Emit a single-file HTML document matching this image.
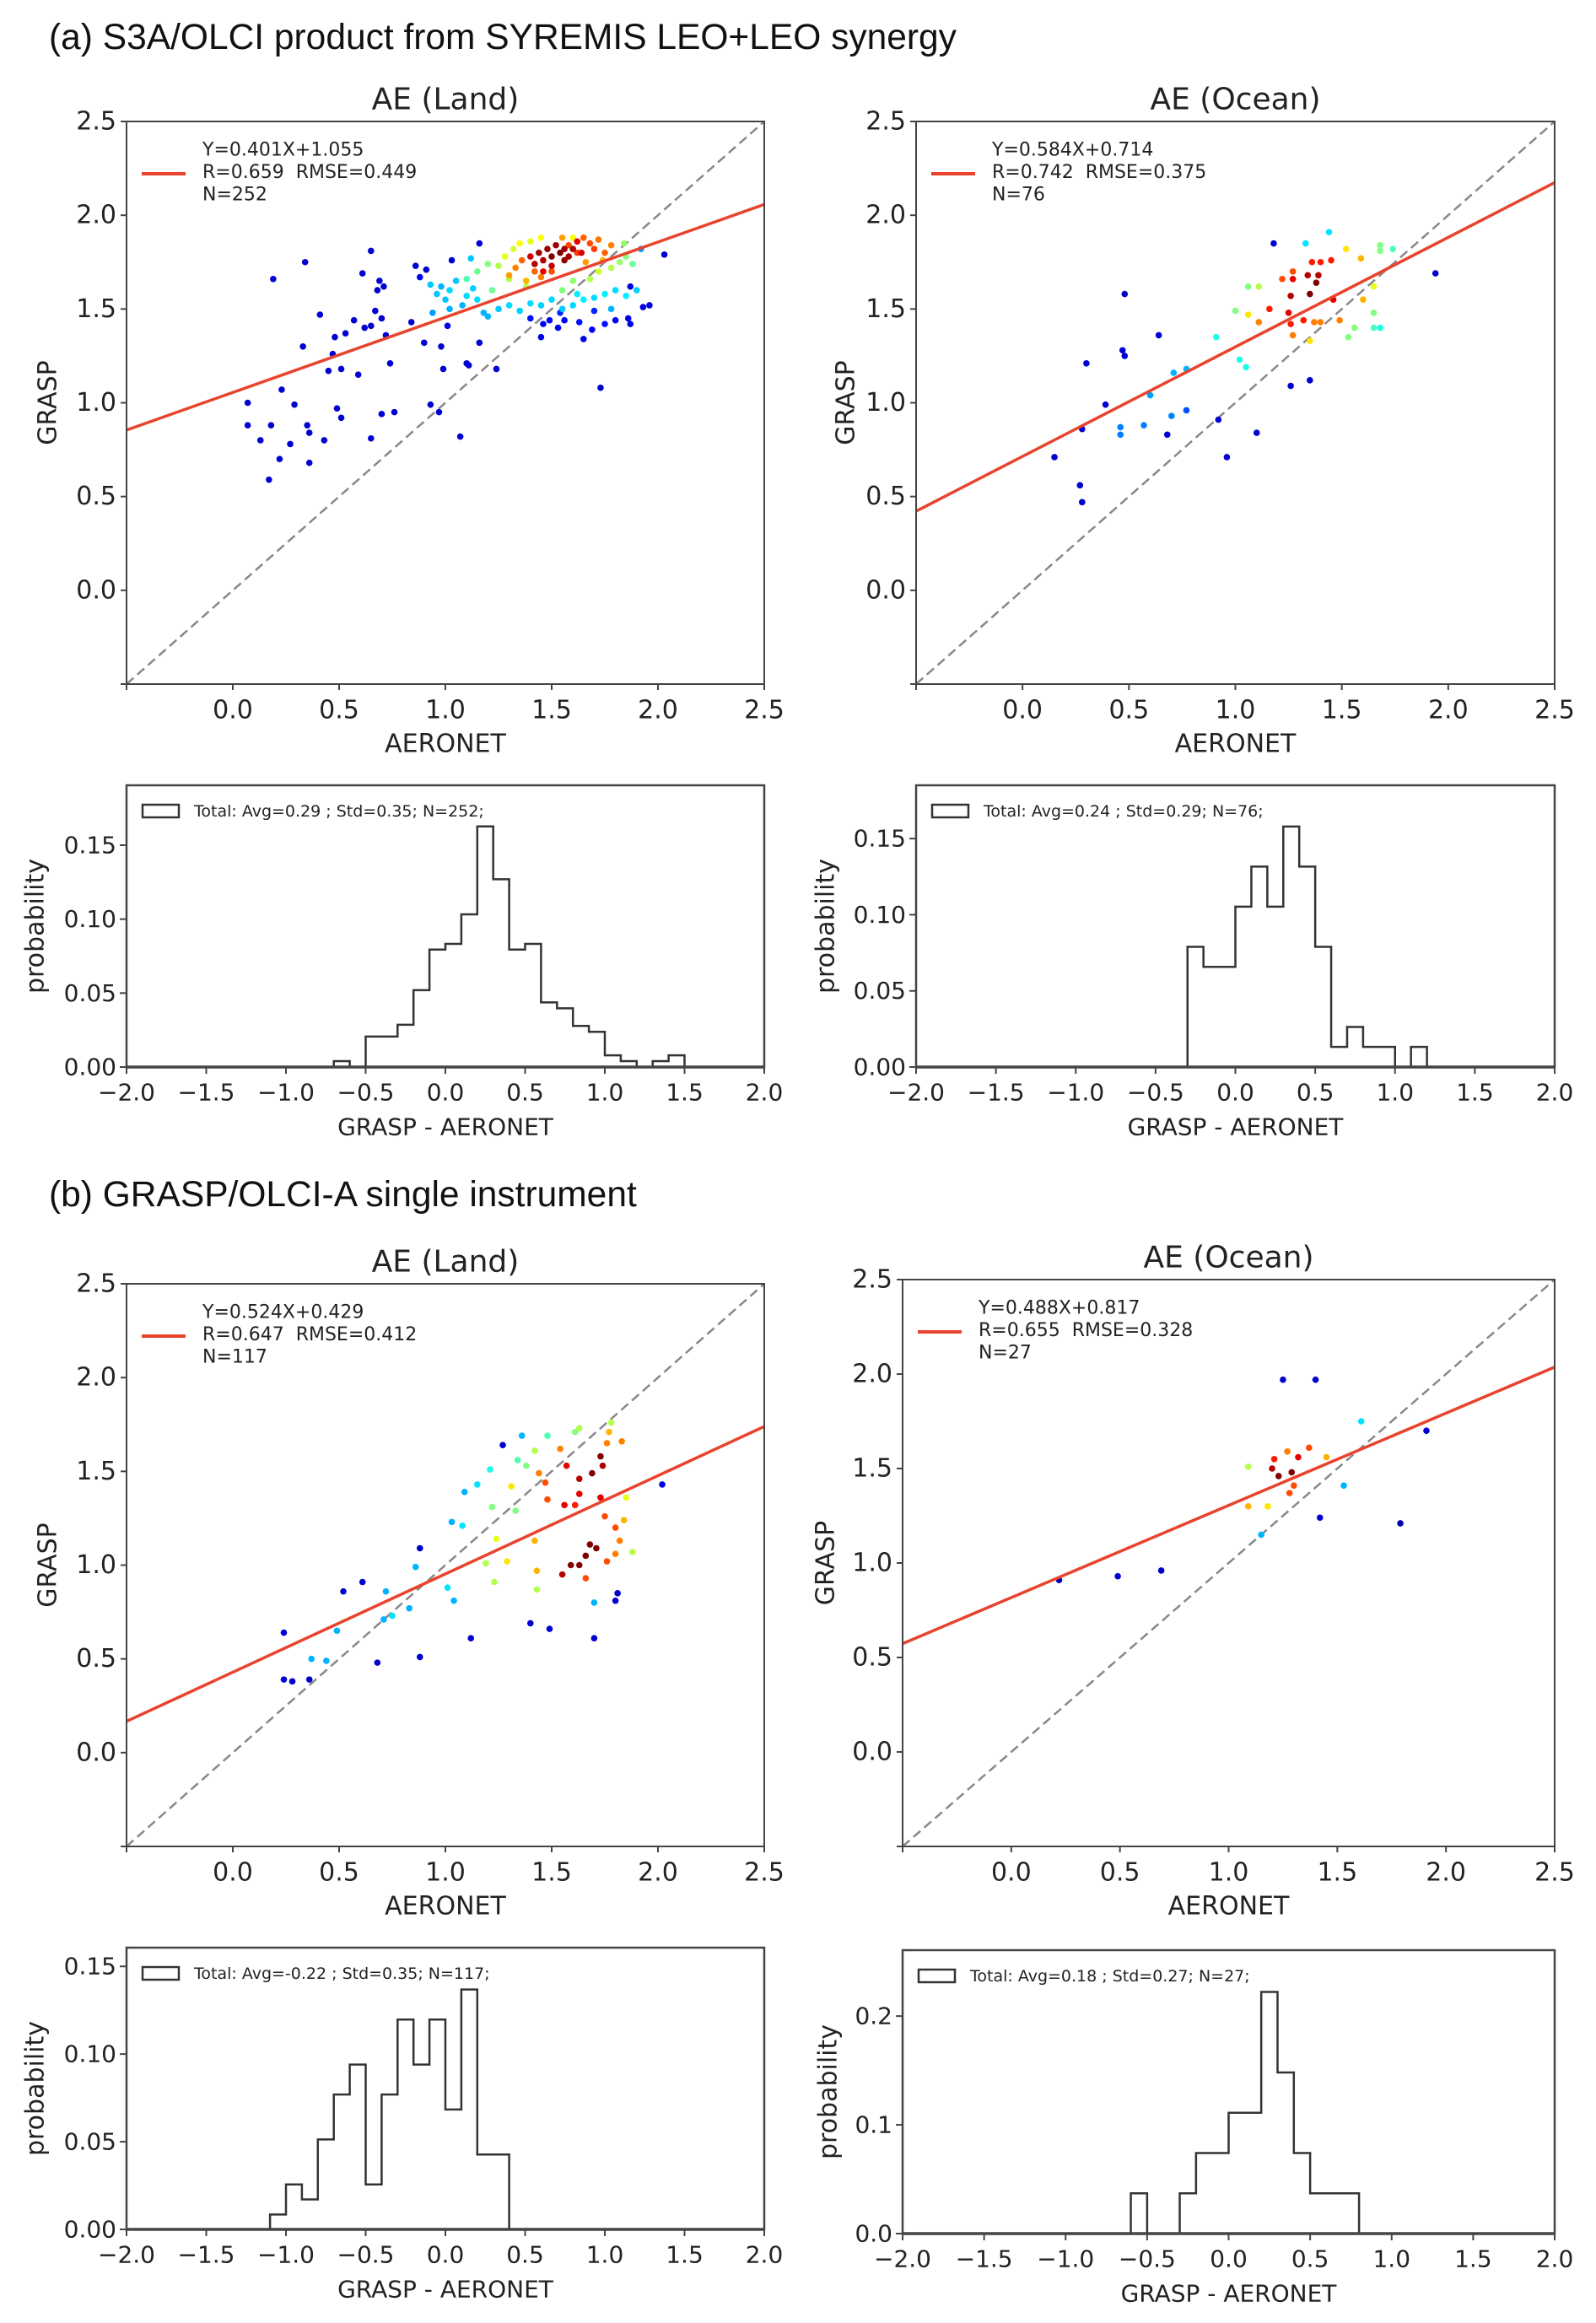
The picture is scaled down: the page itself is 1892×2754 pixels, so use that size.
<!DOCTYPE html>
<html><head><meta charset="utf-8"><style>
html,body{margin:0;padding:0;background:#fff;}
svg{display:block;font-family:"DejaVu Sans","Liberation Sans",sans-serif;}
text{white-space:pre;}
</style></head><body>
<svg id="fig" width="1892" height="2754" viewBox="0 0 1892 2754" xmlns="http://www.w3.org/2000/svg" xml:space="preserve">
<text x="58" y="58" font-family="Liberation Sans, sans-serif" font-size="42.5" fill="#111">(a) S3A/OLCI product from SYREMIS LEO+LEO synergy</text>
<text x="58" y="1430" font-family="Liberation Sans, sans-serif" font-size="42.5" fill="#111">(b) GRASP/OLCI-A single instrument</text>
</svg>
<script>
// ---------- data: scatter (a) land ----------
const landA_x=[0.07,0.07,0.13,0.18,0.17,0.19,0.22,0.23,0.27,0.29,0.33,0.34,0.35,0.36,0.36,0.41,0.43,0.45,0.47,0.48,0.49,0.51,0.51,0.53,0.57,0.59,0.61,0.62,0.65,0.65,0.65,0.67,0.68,0.69,0.70,0.71,0.70,0.72,0.74,0.76,0.84,0.86,0.88,0.90,0.91,0.93,0.97,0.98,0.99,1.01,1.03,1.07,1.10,1.11,1.16,1.16,1.24,1.46,1.45,1.49,1.53,1.56,1.63,1.65,1.69,1.73,1.75,1.80,1.86,1.87,1.87,1.93,1.96,2.03,1.70,1.40,1.54,
0.93,0.96,0.98,1.00,1.02,1.05,1.08,1.10,1.13,1.15,1.18,1.20,1.25,1.30,1.35,1.40,1.45,1.50,1.55,1.60,1.65,1.70,1.75,1.80,1.85,1.90,1.92,1.78,1.62,1.12,1.02,0.94,
1.10,1.15,1.20,1.25,1.28,1.32,1.35,1.40,1.45,1.60,1.68,1.72,1.78,1.82,1.85,1.88,1.84,1.55,1.60,1.22,1.30,1.38,
1.30,1.33,1.36,1.38,1.42,1.45,1.50,1.55,1.58,1.62,1.65,1.68,1.70,1.72,1.75,1.78,1.74,1.66,
1.40,1.42,1.44,1.46,1.48,1.50,1.52,1.54,1.56,1.58,1.60,1.62,1.50,1.46,1.56,1.64];
const landA_y=[1.00,0.88,0.80,0.88,0.59,1.66,0.70,1.07,0.78,0.99,1.30,1.75,0.88,0.84,0.68,1.47,0.80,1.17,1.26,1.35,0.97,0.92,1.18,1.37,1.44,1.15,1.69,1.40,1.81,1.41,0.81,1.49,1.60,1.65,0.94,1.62,1.45,1.36,1.21,0.95,1.43,1.73,1.67,1.32,1.71,0.99,0.95,1.30,1.18,1.41,1.76,0.82,1.21,1.20,1.85,1.32,1.18,1.42,1.35,1.44,1.40,1.44,1.43,1.34,1.39,1.08,1.42,1.44,1.45,1.62,1.42,1.51,1.52,1.79,1.49,1.45,1.48,
1.63,1.58,1.62,1.55,1.60,1.65,1.52,1.57,1.61,1.55,1.48,1.46,1.50,1.52,1.49,1.53,1.52,1.55,1.50,1.52,1.55,1.56,1.58,1.60,1.57,1.60,1.82,1.50,1.58,1.77,1.50,1.48,
1.66,1.70,1.74,1.73,1.78,1.82,1.85,1.86,1.88,1.88,1.66,1.70,1.72,1.75,1.78,1.74,1.85,1.60,1.65,1.60,1.66,1.62,
1.68,1.72,1.76,1.65,1.70,1.67,1.70,1.88,1.84,1.80,1.88,1.85,1.82,1.87,1.80,1.84,1.76,1.75,
1.78,1.74,1.80,1.76,1.82,1.78,1.84,1.80,1.82,1.78,1.82,1.86,1.73,1.70,1.76,1.80];
const landA_c=[0.08,0.08,0.08,0.08,0.08,0.08,0.08,0.08,0.08,0.08,0.08,0.08,0.08,0.08,0.08,0.08,0.08,0.08,0.08,0.08,0.08,0.08,0.08,0.08,0.08,0.08,0.08,0.08,0.08,0.08,0.08,0.08,0.08,0.08,0.08,0.08,0.08,0.08,0.08,0.08,0.08,0.08,0.12,0.08,0.08,0.08,0.08,0.08,0.08,0.10,0.08,0.08,0.08,0.08,0.08,0.08,0.08,0.12,0.10,0.12,0.12,0.12,0.14,0.10,0.12,0.08,0.14,0.12,0.10,0.10,0.10,0.10,0.10,0.08,0.16,0.14,0.16,
0.32,0.32,0.30,0.32,0.34,0.32,0.30,0.34,0.33,0.34,0.30,0.30,0.32,0.34,0.33,0.34,0.33,0.34,0.32,0.34,0.36,0.34,0.36,0.34,0.36,0.33,0.28,0.30,0.36,0.32,0.30,0.28,
0.45,0.48,0.50,0.55,0.60,0.58,0.62,0.60,0.62,0.62,0.55,0.58,0.55,0.52,0.50,0.48,0.52,0.50,0.52,0.48,0.55,0.55,
0.72,0.75,0.78,0.70,0.78,0.75,0.80,0.72,0.80,0.82,0.78,0.80,0.82,0.76,0.78,0.75,0.70,0.72,
0.92,0.95,0.97,0.95,0.98,1.00,0.97,1.00,0.98,0.96,0.95,0.90,0.93,0.90,0.98,0.92];
// ---------- scatter (a) ocean ----------
const oceanA_x=[0.15,0.27,0.28,0.28,0.30,0.39,0.48,0.47,0.48,0.46,0.46,0.57,0.60,0.64,0.68,0.70,0.71,0.77,0.77,0.92,0.96,0.91,1.02,1.05,1.00,1.06,1.06,1.11,1.10,1.18,1.33,1.44,1.26,1.35,1.16,1.11,1.22,1.26,1.27,1.27,1.25,1.26,1.27,1.32,1.35,1.34,1.36,1.38,1.39,1.40,1.37,1.40,1.45,1.46,1.49,1.35,1.52,1.59,1.60,1.53,1.56,1.65,1.65,1.68,1.65,1.68,1.68,1.74,1.94];
const oceanA_y=[0.71,0.56,0.47,0.86,1.21,0.99,1.58,1.28,1.25,0.87,0.83,0.88,1.04,1.36,0.83,0.93,1.16,1.18,0.96,0.91,0.71,1.35,1.23,1.19,1.49,1.47,1.62,1.62,0.84,1.85,1.85,1.91,1.09,1.12,1.50,1.43,1.66,1.57,1.70,1.66,1.48,1.42,1.36,1.44,1.58,1.68,1.75,1.64,1.68,1.75,1.43,1.43,1.76,1.55,1.44,1.33,1.82,1.77,1.55,1.35,1.40,1.48,1.40,1.40,1.62,1.84,1.81,1.82,1.69];
const oceanA_c=[0.08,0.08,0.08,0.08,0.08,0.08,0.06,0.08,0.08,0.25,0.25,0.25,0.28,0.08,0.08,0.25,0.30,0.30,0.20,0.08,0.08,0.40,0.40,0.40,0.50,0.65,0.50,0.55,0.08,0.08,0.35,0.35,0.08,0.08,0.85,0.75,0.80,0.95,0.80,0.90,0.90,0.85,0.75,0.85,1.00,0.95,0.85,1.00,0.95,0.85,0.75,0.75,0.85,0.90,0.75,0.65,0.65,0.70,0.70,0.50,0.50,0.50,0.45,0.40,0.60,0.50,0.50,0.45,0.08];
// ---------- scatter (b) land ----------
const landB_x=[0.24,0.24,0.28,0.36,0.37,0.44,0.49,0.52,0.61,0.68,0.72,0.71,0.75,0.83,0.86,0.88,0.88,1.01,1.04,1.03,1.08,1.09,1.15,1.12,1.21,1.22,1.23,1.24,1.19,1.27,1.31,1.29,1.33,1.34,1.36,1.38,1.42,1.40,1.42,1.43,1.43,1.44,1.47,1.48,1.48,1.49,1.54,1.55,1.56,1.57,1.59,1.61,1.61,1.63,1.63,1.63,1.63,1.66,1.66,1.68,1.69,1.70,1.71,1.70,1.73,1.73,1.74,1.76,1.75,1.76,1.77,1.78,1.80,1.80,1.81,1.80,1.82,1.83,1.84,1.85,1.88,2.02];
const landB_y=[0.64,0.39,0.38,0.39,0.50,0.49,0.65,0.86,0.91,0.48,0.86,0.71,0.73,0.77,0.99,1.09,0.51,0.88,0.81,1.23,1.21,1.39,1.43,0.61,1.51,1.31,0.91,1.14,1.01,1.64,1.42,1.02,1.29,1.56,1.69,1.53,1.61,0.69,1.13,0.97,0.87,1.49,1.44,1.69,1.35,0.66,1.62,0.95,1.32,1.53,1.00,1.71,1.32,1.73,1.46,1.00,1.38,0.93,1.05,1.11,1.49,0.61,1.09,0.80,1.58,1.36,1.53,1.65,1.26,1.02,1.71,1.76,1.06,1.20,0.85,0.81,1.13,1.66,1.24,1.36,1.07,1.43];
const landB_c=[0.08,0.08,0.08,0.08,0.30,0.30,0.30,0.08,0.08,0.08,0.30,0.30,0.35,0.30,0.30,0.08,0.08,0.35,0.30,0.30,0.35,0.30,0.35,0.08,0.40,0.50,0.55,0.60,0.55,0.08,0.65,0.65,0.50,0.45,0.30,0.50,0.55,0.08,0.70,0.70,0.55,0.75,0.80,0.45,0.80,0.08,0.75,0.95,0.90,0.90,1.00,0.50,0.85,0.55,0.95,1.00,0.90,0.80,1.00,1.00,1.00,0.08,1.00,0.30,1.00,0.90,0.95,0.75,0.80,0.80,0.70,0.55,0.75,0.80,0.08,0.08,0.75,0.75,0.70,0.60,0.55,0.10];
// ---------- scatter (b) ocean ----------
const oceanB_x=[0.22,0.49,0.69,1.25,1.40,1.91,1.79,1.42,1.61,1.53,1.15,1.09,1.09,1.18,1.21,1.20,1.23,1.27,1.29,1.30,1.28,1.32,1.37,1.45];
const oceanB_y=[0.91,0.93,0.96,1.97,1.97,1.70,1.21,1.24,1.75,1.41,1.15,1.51,1.30,1.30,1.55,1.50,1.46,1.59,1.48,1.41,1.37,1.56,1.61,1.56];
const oceanB_c=[0.05,0.08,0.08,0.08,0.08,0.08,0.05,0.08,0.35,0.30,0.30,0.55,0.70,0.65,0.85,0.95,1.00,0.75,1.00,0.80,0.80,0.90,0.80,0.70];
// ---------- regression ----------
const fitSlope=[0.401,0.584,0.524,0.488];
const fitIntercept=[1.055,0.714,0.429,0.817];
const legendLines=[["Y=0.401X+1.055","R=0.659  RMSE=0.449","N=252"],["Y=0.584X+0.714","R=0.742  RMSE=0.375","N=76"],["Y=0.524X+0.429","R=0.647  RMSE=0.412","N=117"],["Y=0.488X+0.817","R=0.655  RMSE=0.328","N=27"]];
const scatterTicks=[0.0,0.5,1.0,1.5,2.0,2.5];
const scatterTickLabels=["0.0","0.5","1.0","1.5","2.0","2.5"];
// ---------- histograms (bin start edges, probabilities; width 0.1) ----------
const histA1_edges=[-0.7,-0.6,-0.5,-0.4,-0.3,-0.2,-0.1,0.0,0.1,0.2,0.3,0.4,0.5,0.6,0.7,0.8,0.9,1.0,1.1,1.2,1.3,1.4];
const histA1_vals=[0.004,0,0.0206,0.0206,0.0286,0.052,0.0794,0.0833,0.1032,0.1627,0.127,0.0794,0.0833,0.0437,0.0397,0.0278,0.0238,0.0079,0.004,0,0.004,0.0079];
const histA2_edges=[-0.3,-0.2,-0.1,0.0,0.1,0.2,0.3,0.4,0.5,0.6,0.7,0.8,0.9,1.0,1.1];
const histA2_vals=[0.0789,0.0658,0.0658,0.1053,0.1316,0.1053,0.1579,0.1316,0.0789,0.0132,0.0263,0.0132,0.0132,0,0.0132];
const histB1_edges=[-1.1,-1.0,-0.9,-0.8,-0.7,-0.6,-0.5,-0.4,-0.3,-0.2,-0.1,0.0,0.1,0.2,0.3];
const histB1_vals=[0.0085,0.0256,0.0171,0.0513,0.0769,0.094,0.0256,0.0769,0.1197,0.094,0.1197,0.0684,0.1368,0.0427,0.0427];
const histB2_edges=[-0.6,-0.5,-0.4,-0.3,-0.2,-0.1,0.0,0.1,0.2,0.3,0.4,0.5,0.6,0.7];
const histB2_vals=[0.037,0,0,0.037,0.0741,0.0741,0.1111,0.1111,0.2222,0.1481,0.0741,0.037,0.037,0.037];
const histLegend=["Total: Avg=0.29 ; Std=0.35; N=252;","Total: Avg=0.24 ; Std=0.29; N=76;","Total: Avg=-0.22 ; Std=0.35; N=117;","Total: Avg=0.18 ; Std=0.27; N=27;"];
const histXTicks=[-2.0,-1.5,-1.0,-0.5,0.0,0.5,1.0,1.5,2.0];
const histXTickLabels=["\u22122.0","\u22121.5","\u22121.0","\u22120.5","0.0","0.5","1.0","1.5","2.0"];
const histYTicksA=[0,0.05,0.10,0.15];
const histYTickLabelsA=["0.00","0.05","0.10","0.15"];
const histYTicksB2=[0,0.1,0.2];
const histYTickLabelsB2=["0.0","0.1","0.2"];

const NS="http://www.w3.org/2000/svg";
const svg=document.getElementById('fig');
function mk(tag,attrs,parent){const e=document.createElementNS(NS,tag);for(const k in attrs)e.setAttribute(k,attrs[k]);(parent||svg).appendChild(e);return e;}
function txt(s,x,y,size,anchor,parent,extra){const t=mk('text',Object.assign({x:x,y:y,'font-size':size,'text-anchor':anchor||'start','dominant-baseline':'central',fill:'#222'},extra||{}),parent);t.textContent=s;return t;}
function jet(c){const cl=v=>Math.max(0,Math.min(1,v));const r=cl(1.5-Math.abs(4*c-3)),g=cl(1.5-Math.abs(4*c-2)),b=cl(1.5-Math.abs(4*c-1));return `rgb(${Math.round(r*255)},${Math.round(g*255)},${Math.round(b*255)})`;}

function scatter(cfg){
  const g=mk('g',{});
  
  
  const L=cfg.L,R=cfg.R,T=cfg.T,B=cfg.B;
  const sx=v=>L+(v+0.5)/3*(R-L), sy=v=>B-(v+0.5)/3*(B-T);
  const d=mk('line',{x1:sx(-0.5),y1:sy(-0.5),x2:sx(2.5),y2:sy(2.5),stroke:'#888','stroke-width':2.5,'stroke-dasharray':'11,6'},g);
  
  
  for(let i=0;i<cfg.xs.length;i++){
    const p=mk('circle',{cx:sx(cfg.xs[i]),cy:sy(cfg.ys[i]),r:3.8,fill:jet(cfg.cs[i])},g);
    
    
  }
  const a=fitSlope[cfg.k],b=fitIntercept[cfg.k];
  const fl=mk('line',{x1:sx(-0.5),y1:sy(a*-0.5+b),x2:sx(2.5),y2:sy(a*2.5+b),stroke:'#e8432d','stroke-width':3.5},g);
  
  
  const fr=mk('rect',{x:L,y:T,width:R-L,height:B-T,fill:'none',stroke:'#444','stroke-width':2},g);
  
  
  [-0.5].concat(scatterTicks).forEach(v=>{mk('line',{x1:sx(v),y1:B,x2:sx(v),y2:B+7,stroke:'#444','stroke-width':2},g);mk('line',{x1:L,y1:sy(v),x2:L-7,y2:sy(v),stroke:'#444','stroke-width':2},g);});
  scatterTicks.forEach((v,i)=>{
    const xt=txt(scatterTickLabels[i],sx(v),B+31,30,'middle',g);
    
    
    const yt=txt(scatterTickLabels[i],L-12,sy(v),30,'end',g);
    
    
  });
  const tt=txt(cfg.title,(L+R)/2,T-26,36,'middle',g);
  
  
  const xl=txt('AERONET',(L+R)/2,B+71,30,'middle',g);
  
  
  const yx=cfg.ylx,yy=(T+B)/2;
  const yl=txt('GRASP',yx,yy,30,'middle',g,{transform:`rotate(-90 ${yx} ${yy})`});
  
  
  const lg=mk('g',{},g);
  
  
  mk('line',{x1:L+18,y1:T+62,x2:L+70,y2:T+62,stroke:'#e8432d','stroke-width':4},lg);
  legendLines[cfg.k].forEach((s,i)=>txt(s,L+90,T+34+i*26.5,22,'start',lg));
}

function hist(cfg){
  const g=mk('g',{});
  
  
  const L=cfg.L,R=cfg.R,T=cfg.T,B=cfg.B;
  const sx=v=>L+(v+2)/4*(R-L), sy=v=>B-v/cfg.ymax*(B-T);
  let d=`M${sx(cfg.edges[0])},${sy(0)}`;
  cfg.edges.forEach((e,i)=>{d+=` L${sx(e)},${sy(cfg.vals[i])} L${sx(e+0.1)},${sy(cfg.vals[i])}`;});
  d+=` L${sx(cfg.edges[cfg.edges.length-1]+0.1)},${sy(0)}`;
  const p=mk('path',{d:d,fill:'none',stroke:'#333','stroke-width':2.5},g);
  
  
  const fr=mk('rect',{x:L,y:T,width:R-L,height:B-T,fill:'none',stroke:'#444','stroke-width':2.5},g);
  
  
  mk('line',{x1:L,y1:B,x2:R,y2:B,stroke:'#444','stroke-width':3.5},g);
  histXTicks.forEach((v,i)=>{
    mk('line',{x1:sx(v),y1:B,x2:sx(v),y2:B+8,stroke:'#444','stroke-width':2},g);
    const t=txt(histXTickLabels[i],sx(v),B+30,28,'middle',g);
    
    
  });
  cfg.yt.forEach((v,i)=>{
    mk('line',{x1:L,y1:sy(v),x2:L-8,y2:sy(v),stroke:'#444','stroke-width':2},g);
    const t=txt(cfg.ytl[i],L-12,sy(v),28,'end',g);
    
    
  });
  const xl=txt('GRASP - AERONET',(L+R)/2,B+71,28,'middle',g);
  
  
  const yx=cfg.ylx,yy=(T+B)/2;
  const yl=txt('probability',yx,yy,30,'middle',g,{transform:`rotate(-90 ${yx} ${yy})`});
  
  
  const lg=mk('g',{},g);
  
  
  mk('rect',{x:L+19,y:T+23,width:43,height:15,fill:'none',stroke:'#333','stroke-width':2.5},lg);
  txt(histLegend[cfg.k],L+80,T+31,19,'start',lg);
}

scatter({name:'scatter-a-land',k:0,xs:landA_x,ys:landA_y,cs:landA_c,L:150,R:906,T:144,B:811,title:'AE (Land)',ylx:57});
scatter({name:'scatter-a-ocean',k:1,xs:oceanA_x,ys:oceanA_y,cs:oceanA_c,L:1086,R:1843,T:144,B:811,title:'AE (Ocean)',ylx:1003});
scatter({name:'scatter-b-land',k:2,xs:landB_x,ys:landB_y,cs:landB_c,L:150,R:906,T:1522,B:2189,title:'AE (Land)',ylx:57});
scatter({name:'scatter-b-ocean',k:3,xs:oceanB_x,ys:oceanB_y,cs:oceanB_c,L:1070,R:1843,T:1517,B:2189,title:'AE (Ocean)',ylx:979});
hist({name:'hist-a-land',k:0,edges:histA1_edges,vals:histA1_vals,L:150,R:906,T:931,B:1265,ymax:0.1905,yt:histYTicksA,ytl:histYTickLabelsA,ylx:42});
hist({name:'hist-a-ocean',k:1,edges:histA2_edges,vals:histA2_vals,L:1086,R:1843,T:931,B:1265,ymax:0.185,yt:histYTicksA,ytl:histYTickLabelsA,ylx:979});
hist({name:'hist-b-land',k:2,edges:histB1_edges,vals:histB1_vals,L:150,R:906,T:2309,B:2643,ymax:0.1607,yt:histYTicksA,ytl:histYTickLabelsA,ylx:42});
hist({name:'hist-b-ocean',k:3,edges:histB2_edges,vals:histB2_vals,L:1070,R:1843,T:2312,B:2648,ymax:0.2606,yt:histYTicksB2,ytl:histYTickLabelsB2,ylx:982});
</script>
</body></html>
